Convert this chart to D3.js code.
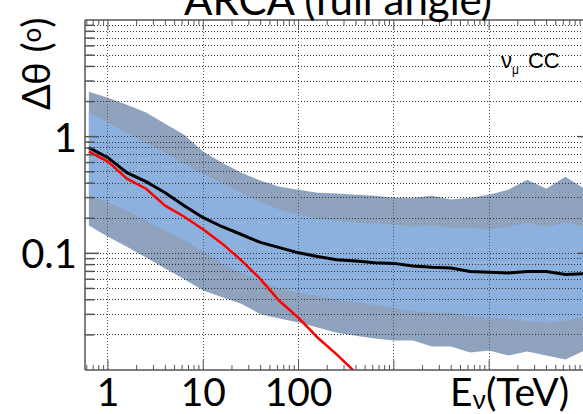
<!DOCTYPE html>
<html>
<head>
<meta charset="utf-8">
<script src="https://cdnjs.cloudflare.com/ajax/libs/d3/7.8.5/d3.min.js"></script>
<style>
  body { margin: 0; background: #fff; }
  svg { display: block; }
</style>
</head>
<body>
<svg id="chart" width="583" height="414"></svg>
<script>
// energy bins (TeV)
const energy = [0.63, 1.0, 1.58, 2.51, 3.98, 6.31, 10, 15.8, 25.1, 39.8, 63.1, 100, 158, 251,
  398, 631, 1000, 1585, 2512, 3981, 6310, 10000, 15849, 25119, 39811, 63096, 100000];

// median angular error (black)
const median = [0.805, 0.661, 0.491, 0.412, 0.331, 0.256, 0.202, 0.169, 0.145, 0.124, 0.112,
  0.101, 0.094, 0.088, 0.086, 0.083, 0.082, 0.078, 0.076, 0.075, 0.070, 0.069, 0.068, 0.070,
  0.070, 0.066, 0.067];

// outer band (dark)
const outerHigh = [2.43, 2.16, 1.88, 1.61, 1.29, 1.04, 0.744, 0.599, 0.491, 0.420, 0.373,
  0.351, 0.331, 0.325, 0.318, 0.312, 0.300, 0.300, 0.312, 0.289, 0.300, 0.318, 0.351, 0.428,
  0.358, 0.454, 0.358];
const outerLow = [0.173, 0.139, 0.114, 0.092, 0.074, 0.060, 0.048, 0.042, 0.037, 0.030, 0.0276,
  0.0255, 0.0231, 0.0209, 0.0197, 0.0186, 0.0179, 0.0179, 0.0159, 0.0159, 0.0141, 0.0147,
  0.0133, 0.0144, 0.0133, 0.0123, 0.0147];

// inner band (light)
const innerHigh = [1.61, 1.318, 1.082, 0.888, 0.729, 0.587, 0.482, 0.396, 0.331, 0.277, 0.237,
  0.215, 0.198, 0.191, 0.183, 0.180, 0.176, 0.169, 0.173, 0.166, 0.166, 0.160, 0.169, 0.183,
  0.169, 0.183, 0.169];
const innerLow = [0.318, 0.277, 0.232, 0.191, 0.157, 0.131, 0.103, 0.082, 0.068, 0.058, 0.050,
  0.046, 0.043, 0.040, 0.038, 0.036, 0.034, 0.032, 0.031, 0.031, 0.0287, 0.0281, 0.0276,
  0.026, 0.0255, 0.0265, 0.0287];

// kinematic angle (red)
const redEnergy = [0.63, 1.0, 1.58, 2.51, 3.98, 6.31, 10, 15.8, 25.1, 39.8, 63.1, 100, 158, 251, 398];
const redLine = [0.744, 0.611, 0.437, 0.358, 0.256, 0.206, 0.160, 0.121, 0.087, 0.060, 0.039,
  0.028, 0.019, 0.0136, 0.0095];

const xLabelValues = [1, 10, 100];
const xLabels = ['1', '10', '100'];
const yLabelValues = [0.1, 1];
const yLabels = ['0.1', '1'];

const svg = d3.select('#chart');
const mLeft = 85, mRight = 592, mTop = 20, mBottom = 370;
const bigFont = "Lato, 'Open Sans', sans-serif";

const x = d3.scaleLog().domain([0.574, 120000]).range([mLeft, mRight]);
const y = d3.scaleLog().domain([0.01, 10]).range([mBottom, mTop]);

const isMajor = (v) => Math.abs(Math.log10(v) - Math.round(Math.log10(v))) < 1e-6;

svg.append('defs').append('clipPath').attr('id', 'plot')
  .append('rect').attr('x', mLeft).attr('y', mTop)
  .attr('width', mRight - mLeft).attr('height', mBottom - mTop);

const plot = svg.append('g').attr('clip-path', 'url(#plot)');

// bands
const band = (lo, hi) => d3.area()
  .x((d, i) => x(energy[i]))
  .y0((d, i) => y(lo[i]))
  .y1((d, i) => y(hi[i]));

plot.append('path').attr('d', band(outerLow, outerHigh)(energy))
  .attr('fill', '#8fa3bf');
plot.append('path').attr('d', band(innerLow, innerHigh)(energy))
  .attr('fill', '#8cb1de');

// dotted grid
const yTicks = y.ticks().filter((v) => v > 0.0101 && v < 9.99);
plot.append('g').selectAll('line').data(yTicks).enter().append('line')
  .attr('x1', mLeft).attr('x2', mRight)
  .attr('y1', (d) => y(d)).attr('y2', (d) => y(d))
  .attr('stroke', '#333').attr('stroke-width', 1).attr('stroke-dasharray', '1,2')
  .attr('shape-rendering', 'crispEdges');

const xMajors = x.ticks().filter((v) => isMajor(v) && x(v) > mLeft + 1 && x(v) < mRight - 1);
plot.append('g').selectAll('line').data(xMajors).enter().append('line')
  .attr('x1', (d) => x(d)).attr('x2', (d) => x(d))
  .attr('y1', mTop).attr('y2', mBottom)
  .attr('stroke', '#555').attr('stroke-width', 1).attr('stroke-dasharray', '1,2')
  .attr('shape-rendering', 'crispEdges');

// lines
const line = d3.line().x((d) => x(d[0])).y((d) => y(d[1]));
plot.append('path').attr('d', line(energy.map((e, i) => [e, median[i]])))
  .attr('fill', 'none').attr('stroke', '#000').attr('stroke-width', 3);
plot.append('path').attr('d', line(redEnergy.map((e, i) => [e, redLine[i]])))
  .attr('fill', 'none').attr('stroke', '#ff0000').attr('stroke-width', 2.5);

// frame + ticks
const axisColor = '#555';
const frame = svg.append('g').attr('stroke', axisColor).attr('stroke-width', 1.5);
frame.append('line').attr('x1', mLeft).attr('x2', mLeft).attr('y1', mTop).attr('y2', mBottom);
frame.append('line').attr('x1', mRight).attr('x2', mRight).attr('y1', mTop).attr('y2', mBottom);
frame.append('line').attr('x1', mLeft).attr('x2', mRight).attr('y1', mBottom).attr('y2', mBottom);
frame.append('line').attr('x1', mLeft).attr('x2', mRight).attr('y1', mTop).attr('y2', mTop);

const xAxisTicks = x.ticks().filter((v) => x(v) > mLeft && x(v) < mRight);
const yAxisTicks = y.ticks().filter((v) => v > 0.0101 && v < 9.99);

[mBottom, mTop].forEach((yy) => {
  const dir = yy === mBottom ? -1 : 1;
  frame.append('g').selectAll('line').data(xAxisTicks).enter().append('line')
    .attr('x1', (d) => x(d)).attr('x2', (d) => x(d))
    .attr('y1', yy).attr('y2', (d) => yy + dir * (isMajor(d) ? 10 : 5))
    .attr('stroke-width', 1);
});
[mLeft, mRight].forEach((xx) => {
  const dir = xx === mLeft ? 1 : -1;
  frame.append('g').selectAll('line').data(yAxisTicks).enter().append('line')
    .attr('x1', xx).attr('x2', (d) => xx + dir * (isMajor(d) ? 14 : 9))
    .attr('y1', (d) => y(d)).attr('y2', (d) => y(d))
    .attr('stroke-width', 1.5);
});

// tick labels
svg.append('g').selectAll('text').data(xLabelValues).enter().append('text')
  .attr('x', (d) => x(d)).attr('y', 406)
  .attr('text-anchor', 'middle')
  .attr('font-family', bigFont).attr('font-size', 39).attr('fill', '#000')
  .text((d, i) => xLabels[i]);

svg.append('g').selectAll('text').data(yLabelValues).enter().append('text')
  .attr('x', 77).attr('y', (d) => y(d) + 15)
  .attr('text-anchor', 'end')
  .attr('font-family', bigFont).attr('font-size', 40).attr('fill', '#000')
  .text((d, i) => yLabels[i]);

// axis titles
const xt = svg.append('text').attr('x', 450).attr('y', 406)
  .attr('font-family', bigFont).attr('font-size', 39).attr('fill', '#000');
xt.append('tspan').text('E');
xt.append('tspan').attr('font-size', 26).attr('dy', 3).text('ν');
xt.append('tspan').attr('dy', -3).text('(TeV)');

const yt = svg.append('text').attr('transform', 'translate(50,110) rotate(-90)')
  .attr('font-family', bigFont).attr('font-size', 38).attr('fill', '#000');
yt.append('tspan').text('Δθ (');
yt.append('tspan').attr('font-size', 26).attr('dy', -9).text('o');
yt.append('tspan').attr('dy', 9).text(')');

// title (cut at the top edge, as in the original)
svg.append('text').attr('x', 338).attr('y', 15)
  .attr('text-anchor', 'middle')
  .attr('font-family', bigFont).attr('font-size', 42).attr('fill', '#000')
  .text('ARCA (full angle)');

// channel label
const ch = svg.append('text').attr('x', 501).attr('y', 68)
  .attr('font-family', "'Liberation Sans', Arial, sans-serif").attr('font-size', 22)
  .attr('fill', '#000');
ch.append('tspan').text('ν');
ch.append('tspan').attr('font-size', 12).attr('dy', 6).text('μ');
ch.append('tspan').attr('dy', -6).attr('dx', 9).text('CC');
</script>
</body>
</html>
